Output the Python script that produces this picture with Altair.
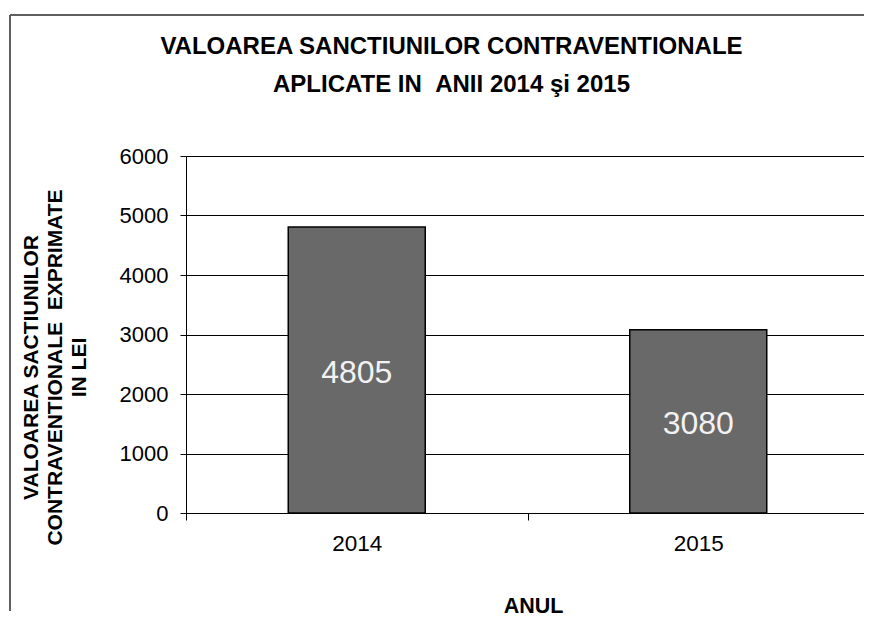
import altair as alt
import pandas as pd

# --- data -------------------------------------------------------------
years = ["2014", "2015"]
values = [4805, 3080]
y_ticks = [0, 1000, 2000, 3000, 4000, 5000, 6000]

title_lines = ["VALOAREA SANCTIUNILOR CONTRAVENTIONALE", "APLICATE IN \u00a0ANII 2014 şi 2015"]
y_title_lines = ["VALOAREA SACTIUNILOR", "CONTRAVENTIONALE \u00a0EXPRIMATE", "IN LEI"]
x_title = "ANUL"

df = pd.DataFrame({"year": years, "value": values})

FONT = "Liberation Sans"

x_enc = alt.X(
    "year:N",
    sort=years,
    scale=alt.Scale(paddingInner=0, paddingOuter=0),
    axis=alt.Axis(
        title=x_title,
        labelAngle=0,
        tickBand="extent",
        labelFont=FONT,
        labelFontSize=22.5,
        labelColor="#000000",
        labelPadding=12,
        tickSize=7,
        tickColor="#000000",
        domainColor="#000000",
        titleFont=FONT,
        titleFontSize=21.5,
        titleFontWeight="bold",
        titleColor="#000000",
        titleX=347,
        titleY=99,
        titleAlign="center",
        titleBaseline="alphabetic",
        grid=False,
    ),
)

y_enc = alt.Y(
    "value:Q",
    scale=alt.Scale(domain=[0, 6000], nice=False),
    axis=alt.Axis(
        values=y_ticks,
        format="d",
        title=y_title_lines,
        titleAngle=270,
        titleFont=FONT,
        titleFontSize=21,
        titleFontWeight="bold",
        titleColor="#000000",
        titleLineHeight=24,
        titleAlign="center",
        titleBaseline="top",
        titleX=-166,
        titleY=211,
        labelFont=FONT,
        labelFontSize=22,
        labelColor="#000000",
        labelPadding=12,
        tickSize=6,
        tickColor="#000000",
        domainColor="#000000",
        grid=True,
        gridColor="#000000",
        gridWidth=1,
        gridOpacity=1,
    ),
)

base = alt.Chart(df)

# outer chart frame (left and top edges; the others fall outside the picture)
frame_left = base.mark_rule(stroke="#555555", strokeWidth=1.5).encode(
    x=alt.value(-176), y=alt.value(-141), y2=alt.value(455)
)
frame_top = base.mark_rule(stroke="#555555", strokeWidth=1.5).encode(
    x=alt.value(-176), x2=alt.value(700), y=alt.value(-141)
)

bars = base.mark_bar(size=137, color="#696969", stroke="#000000", strokeWidth=1.5).encode(
    x=x_enc, y=y_enc
)

labels = base.transform_calculate(mid="datum.value / 2").mark_text(
    font=FONT, fontSize=32, color="#F2F2F2", baseline="middle", dy=3
).encode(x=alt.X("year:N", sort=years), y=alt.Y("mid:Q"), text=alt.Text("value:Q"))

chart = alt.layer(bars, labels, frame_left, frame_top).properties(
    width=683,
    height=357,
    autosize=alt.AutoSizeParams(type="none"),
    padding={"left": 178, "top": 148, "right": -5, "bottom": 105},
    title=alt.TitleParams(
        text=title_lines,
        anchor="middle",
        frame="group",
        dx=-76,
        offset=-107,
        font=FONT,
        fontSize=24,
        fontWeight="bold",
        color="#000000",
        lineHeight=38,
        baseline="bottom",
    ),
).configure_view(fill="#F2F2F2", stroke="#808080", strokeWidth=1).configure(background="#FFFFFF")

chart.save("out.html", embed_options={"renderer": "svg", "actions": False})
